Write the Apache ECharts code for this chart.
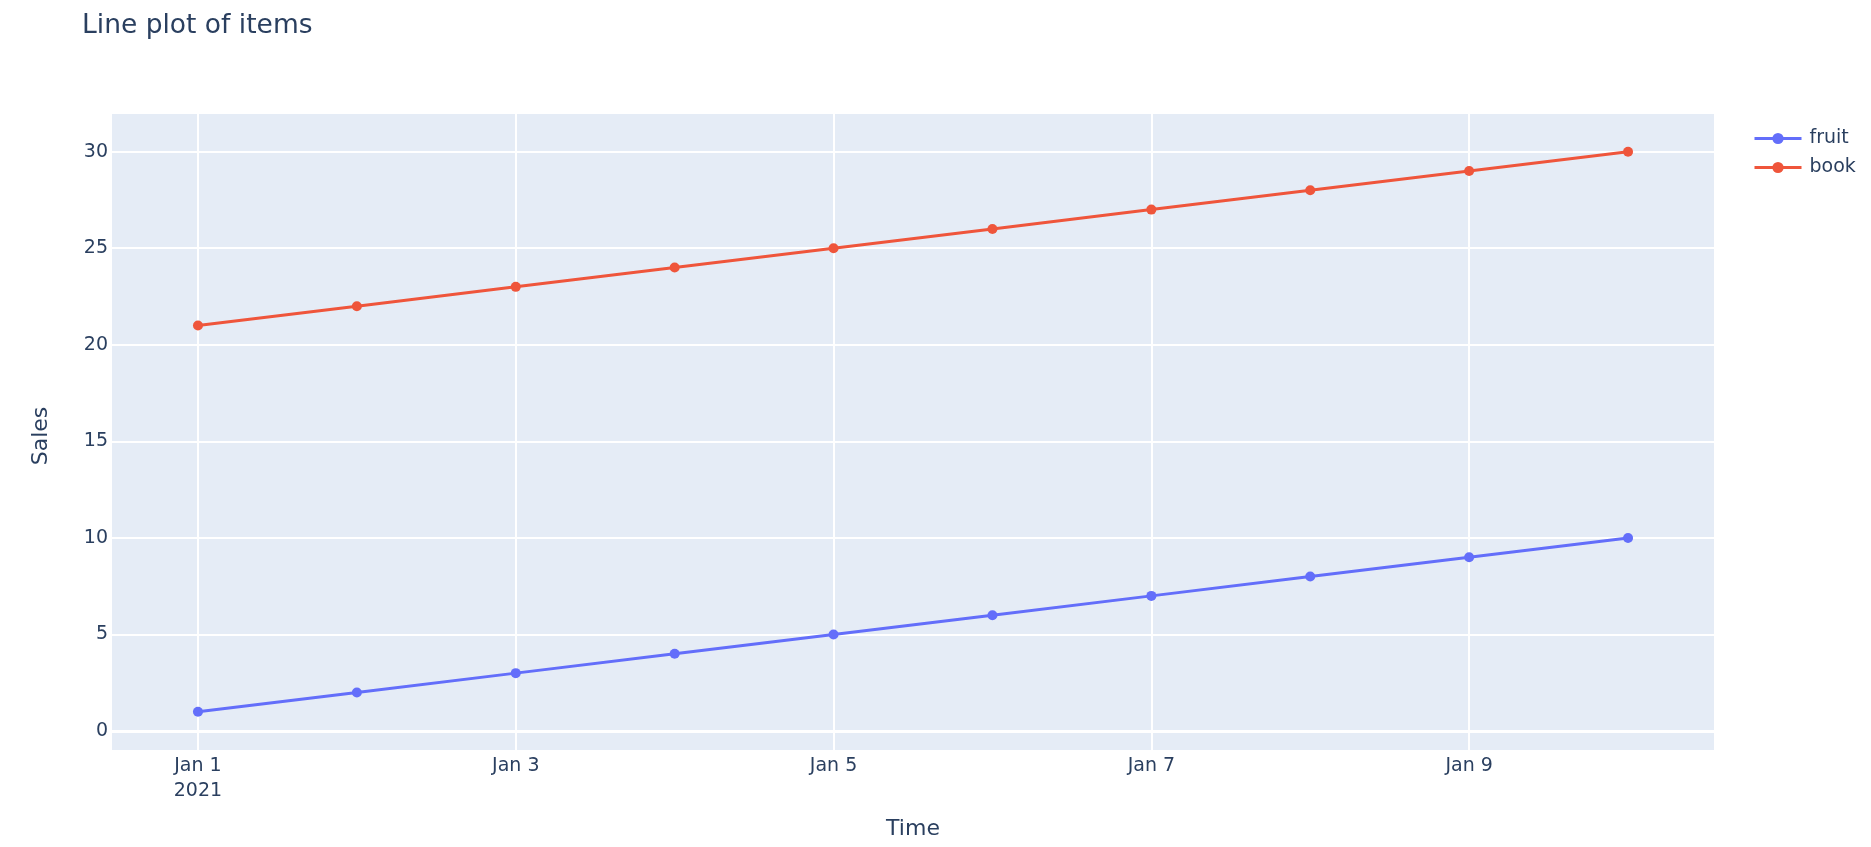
<!DOCTYPE html>
<html>
<head>
<meta charset="utf-8">
<script src="https://cdn.jsdelivr.net/npm/echarts@6/dist/echarts.min.js"></script>
<style>
  html, body { margin: 0; padding: 0; background: #fff; }
  #chart { width: 1871px; height: 847px; }
</style>
</head>
<body>
<div id="chart"></div>
<script>
// data
const dates = ['2021-01-01', '2021-01-02', '2021-01-03', '2021-01-04', '2021-01-05',
  '2021-01-06', '2021-01-07', '2021-01-08', '2021-01-09', '2021-01-10'];
const fruit = [1, 2, 3, 4, 5, 6, 7, 8, 9, 10];
const book = [21, 22, 23, 24, 25, 26, 27, 28, 29, 30];
const xTickDates = ['2021-01-01', '2021-01-03', '2021-01-05', '2021-01-07', '2021-01-09'];
const yTicks = [0, 5, 10, 15, 20, 25, 30];

const DAY = 86400000;
const MONTHS = ['Jan', 'Feb', 'Mar', 'Apr', 'May', 'Jun', 'Jul', 'Aug', 'Sep', 'Oct', 'Nov', 'Dec'];
const toTs = d => Date.parse(d + 'T00:00:00Z');
const xs = dates.map(toTs);
const xTicks = xTickDates.map(toTs);

const textColor = '#2a3f5f';
const font = 'DejaVu Sans';

function fmtDate(v) {
  const d = new Date(v);
  let s = MONTHS[d.getUTCMonth()] + ' ' + d.getUTCDate();
  if (v === xTicks[0]) s += '\n' + d.getUTCFullYear();
  return s;
}

const chart = echarts.init(document.getElementById('chart'));
chart.setOption({
  backgroundColor: '#fff',
  animation: false,
  title: {
    text: 'Line plot of items',
    left: 82,
    top: 13,
    padding: 0,
    textStyle: { fontFamily: font, fontSize: 26.5, lineHeight: 27, fontWeight: 'normal', color: textColor }
  },
  legend: {
    orient: 'vertical',
    left: 1753,
    top: 129,
    padding: 0,
    itemWidth: 47,
    itemHeight: 14,
    itemGap: 10,
    lineStyle: { width: 3 },
    textStyle: { fontFamily: font, fontSize: 19, color: textColor, padding: [0, 0, 0, 3] },
    data: ['fruit', 'book']
  },
  grid: { left: 112, right: 157, top: 114, bottom: 97, backgroundColor: '#E5ECF6', show: true, borderWidth: 0 },
  xAxis: {
    type: 'value',
    min: xs[0] - 0.541 * DAY,
    max: xs[xs.length - 1] + 0.541 * DAY,
    name: 'Time',
    nameLocation: 'middle',
    nameGap: 68,
    nameTextStyle: { fontFamily: font, fontSize: 22, color: textColor },
    axisLine: { show: false },
    axisTick: { show: false, customValues: xTicks },
    axisLabel: {
      customValues: xTicks,
      formatter: fmtDate,
      margin: 4,
      fontFamily: font, fontSize: 19, lineHeight: 25, color: textColor
    },
    splitLine: { show: true, lineStyle: { color: '#fff', width: 2 } }
  },
  yAxis: {
    type: 'value',
    min: -0.98,
    max: 31.95,
    name: 'Sales',
    nameLocation: 'middle',
    nameGap: 60,
    nameTextStyle: { fontFamily: font, fontSize: 22, color: textColor, padding: [0, 8, 0, 0] },
    axisLine: { show: false },
    axisTick: { show: false, customValues: yTicks },
    axisLabel: {
      customValues: yTicks,
      margin: 4,
      fontFamily: font, fontSize: 19, color: textColor
    },
    splitLine: { show: true, lineStyle: { color: '#fff', width: 2 } }
  },
  series: [
    {
      name: 'fruit',
      type: 'line',
      data: xs.map((x, i) => [x, fruit[i]]),
      color: '#636efa',
      symbol: 'circle',
      symbolSize: 10,
      showSymbol: true,
      lineStyle: { width: 3 },
      itemStyle: { color: '#636efa', borderWidth: 0 },
      markLine: {
        silent: true,
        symbol: 'none',
        label: { show: false },
        lineStyle: { color: '#fff', width: 3, type: 'solid' },
        data: [{ yAxis: 0 }]
      }
    },
    {
      name: 'book',
      type: 'line',
      data: xs.map((x, i) => [x, book[i]]),
      color: '#EF553B',
      symbol: 'circle',
      symbolSize: 10,
      showSymbol: true,
      lineStyle: { width: 3 },
      itemStyle: { color: '#EF553B', borderWidth: 0 }
    }
  ]
});
</script>
</body>
</html>
